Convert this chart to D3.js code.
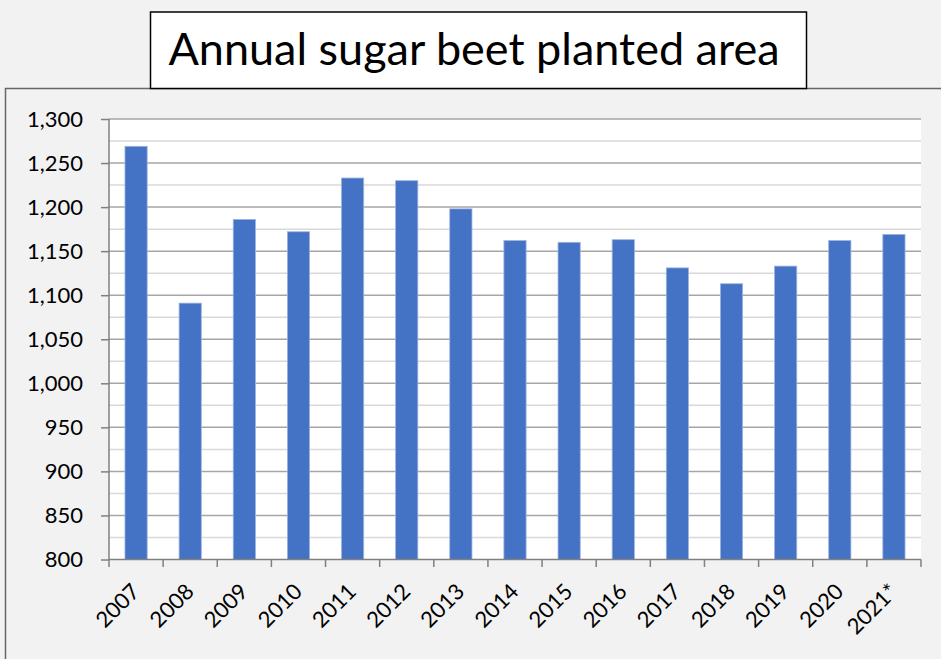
<!DOCTYPE html>
<html><head><meta charset="utf-8">
<script src="https://cdn.jsdelivr.net/npm/d3@7"></script>
<style>body{margin:0;background:#f2f2f2;}svg{display:block;}</style>
</head><body>
<script>
const years = ["2007","2008","2009","2010","2011","2012","2013","2014","2015","2016","2017","2018","2019","2020","2021*"];
const area = [1269,1091,1186,1172,1233,1230,1198,1162,1160,1163,1131,1113,1133,1162,1169];
const yTicks = [800,850,900,950,1000,1050,1100,1150,1200,1250,1300];
const yMinor = [825,875,925,975,1025,1075,1125,1175,1225,1275];
const title = "Annual sugar beet planted area";

const W=941,H=659;
const FONT="Lato, 'Open Sans', sans-serif";
const svg=d3.select("body").append("svg").attr("width",W).attr("height",H);
svg.append("rect").attr("width",W).attr("height",H).attr("fill","#f2f2f2");
// outer chart border
svg.append("path").attr("d","M5.5,"+(H+2)+"V88.5H"+(W+2)).attr("fill","none").attr("stroke","#666666").attr("stroke-width",1.5);

const x=d3.scaleBand().domain(years).range([109,921]).paddingInner(0.59).paddingOuter(0.295);
const xb=d3.scaleBand().domain(years).range([109,921]);
const y=d3.scaleLinear().domain([800,1300]).range([559.5,119]);

svg.append("rect").attr("x",109).attr("y",119).attr("width",812).attr("height",440).attr("fill","#ffffff");
svg.append("g").selectAll("line").data(yMinor).join("line")
 .attr("x1",109).attr("x2",921).attr("y1",d=>y(d)).attr("y2",d=>y(d)).attr("stroke","#d9d9d9").attr("stroke-width",1.5);
svg.append("g").selectAll("line").data(yTicks.filter(d=>d>800)).join("line")
 .attr("x1",109).attr("x2",921).attr("y1",d=>y(d)).attr("y2",d=>y(d)).attr("stroke","#a6a6a6").attr("stroke-width",1.5);

svg.append("g").selectAll("rect").data(area).join("rect")
 .attr("x",(d,i)=>x(years[i])).attr("width",x.bandwidth())
 .attr("y",d=>y(d)).attr("height",d=>y(800)-y(d))
 .attr("fill","#4472c4").attr("stroke","#9db3e0").attr("stroke-width",0.8);

// y axis
const ya=svg.append("g").attr("transform","translate(109,0)").call(d3.axisLeft(y).tickValues(yTicks).tickSize(8).tickPadding(18).tickFormat(d3.format(",")));
ya.select(".domain").attr("stroke","#808080").attr("stroke-width",1.5).attr("d","M0,119V559.5");
ya.selectAll(".tick line").attr("stroke","#808080").attr("stroke-width",1.5);
ya.selectAll("text").attr("font-family",FONT).attr("font-size",22).attr("fill","#000");

// x axis
const xg=svg.append("g");
xg.append("line").attr("x1",109).attr("x2",921).attr("y1",y(800)).attr("y2",y(800)).attr("stroke","#808080").attr("stroke-width",1.5);
const edges=years.map(d=>xb(d)).concat([921]);
xg.selectAll(".xt").data(edges).join("line").attr("class","xt")
 .attr("x1",d=>d).attr("x2",d=>d).attr("y1",y(800)).attr("y2",567).attr("stroke","#808080").attr("stroke-width",1.5);
xg.selectAll("text").data(years).join("text")
 .attr("transform",d=>`translate(${xb(d)+xb.bandwidth()/2+5},593) rotate(-45)`)
 .attr("text-anchor","end").attr("font-family",FONT).attr("font-size",22).attr("fill","#000")
 .text(d=>d);

// title box
svg.append("rect").attr("x",150.5).attr("y",12).attr("width",656).attr("height",76.5).attr("fill","#fff").attr("stroke","#000").attr("stroke-width",1.5);
svg.append("text").attr("x",474).attr("y",65).attr("text-anchor","middle")
 .attr("font-family",FONT).attr("font-size",45).attr("fill","#000").text(title);
</script>
</body></html>
